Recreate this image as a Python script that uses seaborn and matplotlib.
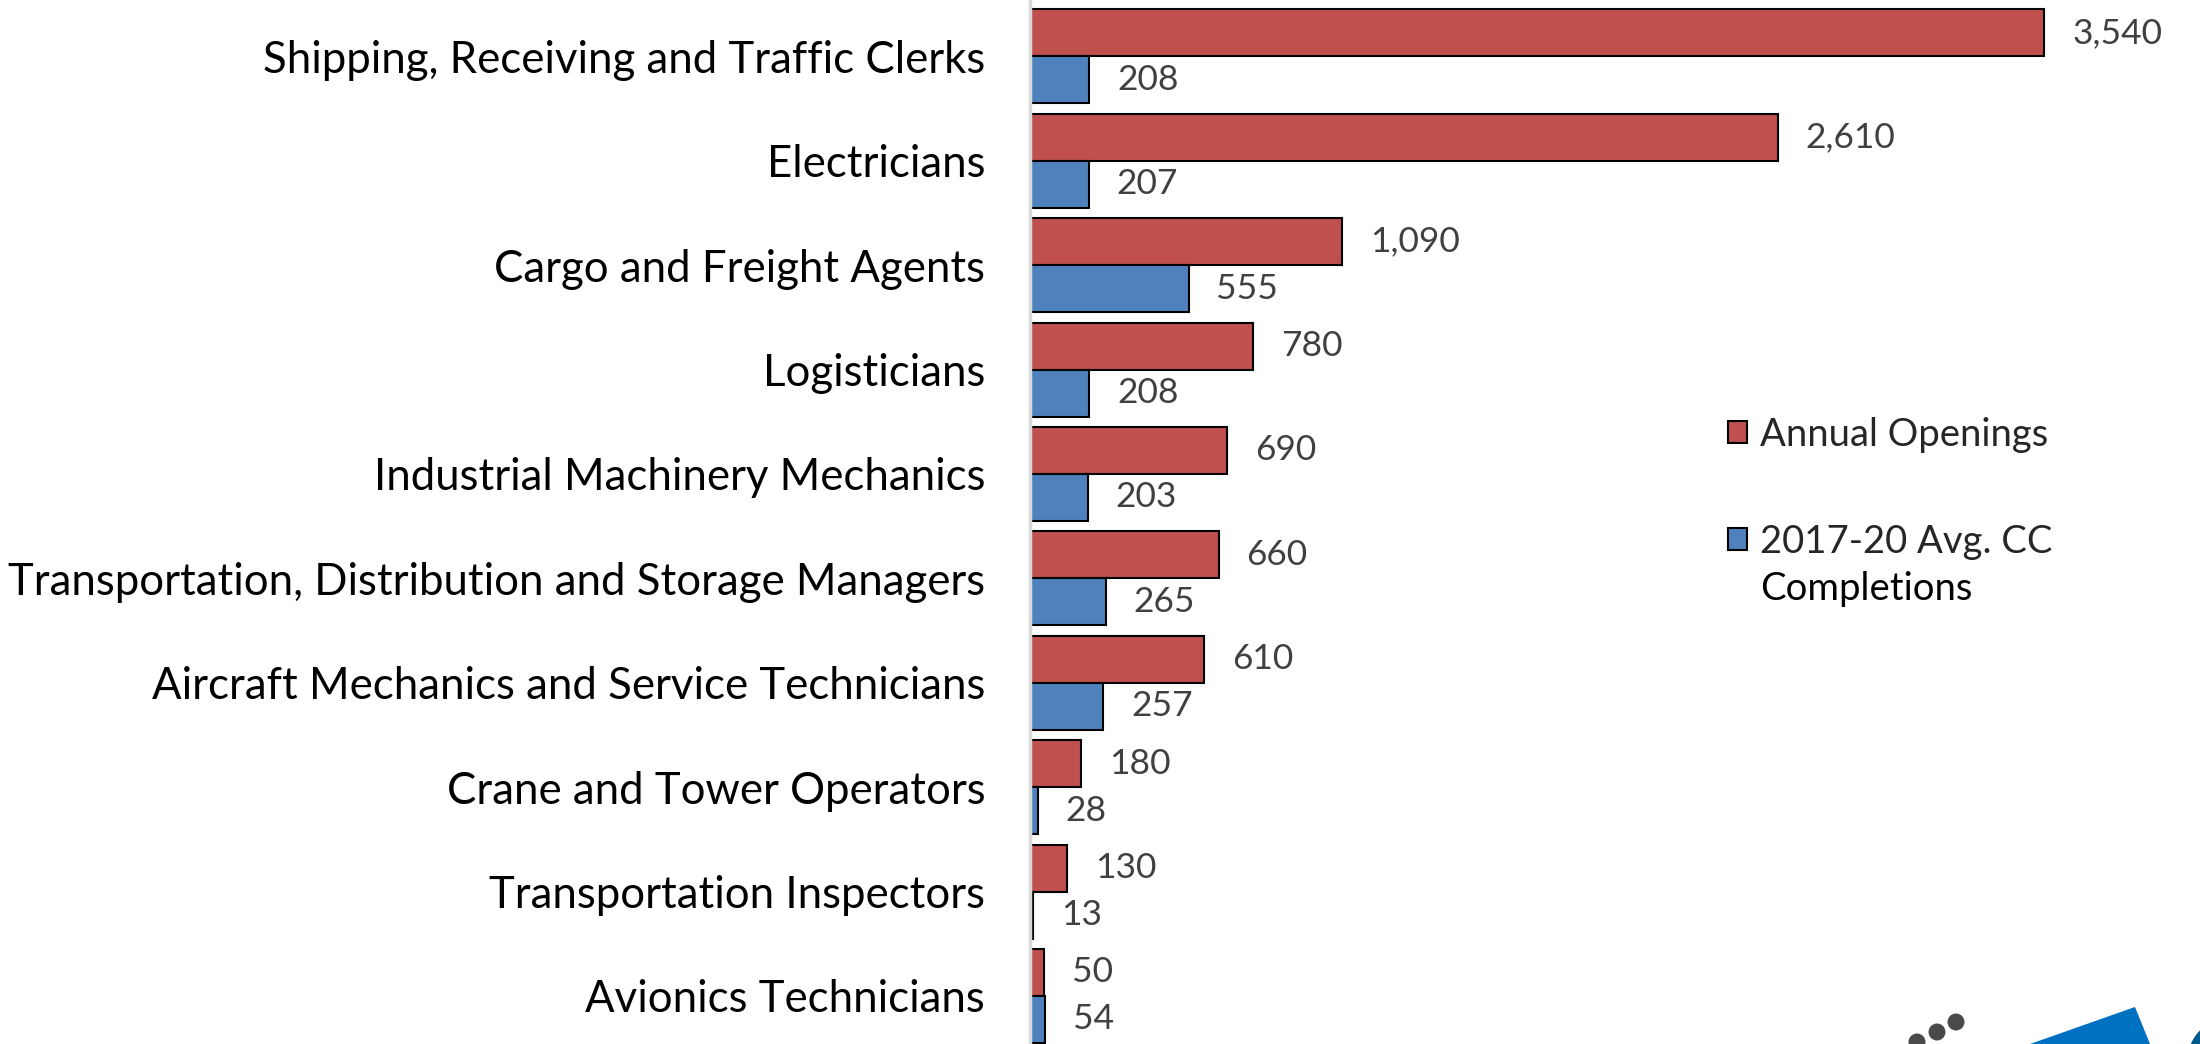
import pandas as pd
import seaborn as sns
import matplotlib.pyplot as plt
from matplotlib.patches import Circle, Polygon
from matplotlib.transforms import IdentityTransform

# occupations, top to bottom
occupations = [
    "Shipping, Receiving and Traffic Clerks",
    "Electricians",
    "Cargo and Freight Agents",
    "Logisticians",
    "Industrial Machinery Mechanics",
    "Transportation, Distribution and Storage Managers",
    "Aircraft Mechanics and Service Technicians",
    "Crane and Tower Operators",
    "Transportation Inspectors",
    "Avionics Technicians",
]
annual_openings = [3540, 2610, 1090, 780, 690, 660, 610, 180, 130, 50]
cc_completions = [208, 207, 555, 208, 203, 265, 257, 28, 13, 54]
series_names = ["Annual Openings", "2017-20 Avg. CC Completions"]
series_colors = ["#C0504D", "#4F81BD"]

df = pd.DataFrame({
    "Occupation": occupations,
    series_names[0]: annual_openings,
    series_names[1]: cc_completions,
})
long_df = df.melt(id_vars="Occupation", var_name="Series", value_name="Value")

sns.set_style("white")
plt.rcParams["font.family"] = ["Lato", "DejaVu Sans"]

W, H = 2200, 1044
fig = plt.figure(figsize=(W / 100, H / 100), dpi=100)
ax = fig.add_axes([0.468, 0.0, 0.532, 1.0])

sns.barplot(
    data=long_df, y="Occupation", x="Value", hue="Series",
    hue_order=series_names, palette=series_colors, order=occupations,
    orient="h", width=0.9, edgecolor="black", linewidth=1.5,
    saturation=1, ax=ax,
)

# value labels next to each bar
for container in ax.containers:
    ax.bar_label(container, fmt="{:,.0f}", padding=20, fontsize=25.5, color="#404040")

ax.set_xlim(0, 4083)
ax.set_ylim(9.46, -0.54)
ax.set_xlabel("")
ax.set_ylabel("")
ax.set_xticks([])
ax.tick_params(axis="y", length=0, pad=32, labelsize=31.5, labelcolor="black")

for side in ["top", "right", "bottom"]:
    ax.spines[side].set_visible(False)
ax.spines["left"].set_color("#D9D9D9")
ax.spines["left"].set_linewidth(2.5)

# legend: second label wraps, with the marker on its first line
handles, _ = ax.get_legend_handles_labels()
leg = ax.legend(
    handles, ["Annual Openings", "2017-20 Avg. CC"],
    loc="upper left", bbox_to_anchor=(0.597, 0.601), frameon=False,
    borderpad=0, borderaxespad=0,
    fontsize=27.5, handlelength=0.48, handleheight=0.48, handletextpad=0.35,
    labelspacing=1.86,
)
ax.annotate(
    "Completions", xy=(0, 0), xycoords=leg.get_texts()[1],
    xytext=(0, -8.5), textcoords="offset points", va="top", ha="left",
    fontsize=27.5, color="black", zorder=10,
)

# logo fragment in the bottom-right corner (pixel coordinates, y from top)
def px(x, y):
    return (x, H - y)

for cx, cy in [(1956, 1022), (1937, 1032), (1917, 1042)]:
    fig.patches.append(Circle(px(cx, cy), 8.5, transform=IdentityTransform(),
                              facecolor="#4A4A4A", edgecolor="none"))
fig.patches.append(Polygon([px(2030, 1044), px(2135, 1007), px(2150, 1044)],
                           closed=True, transform=IdentityTransform(),
                           facecolor="#0070C0", edgecolor="none"))
fig.patches.append(Circle(px(2232, 1062), 45, transform=IdentityTransform(),
                          facecolor="#005A8C", edgecolor="none"))

fig.canvas.draw()
fig.savefig("out.png", dpi=100)
